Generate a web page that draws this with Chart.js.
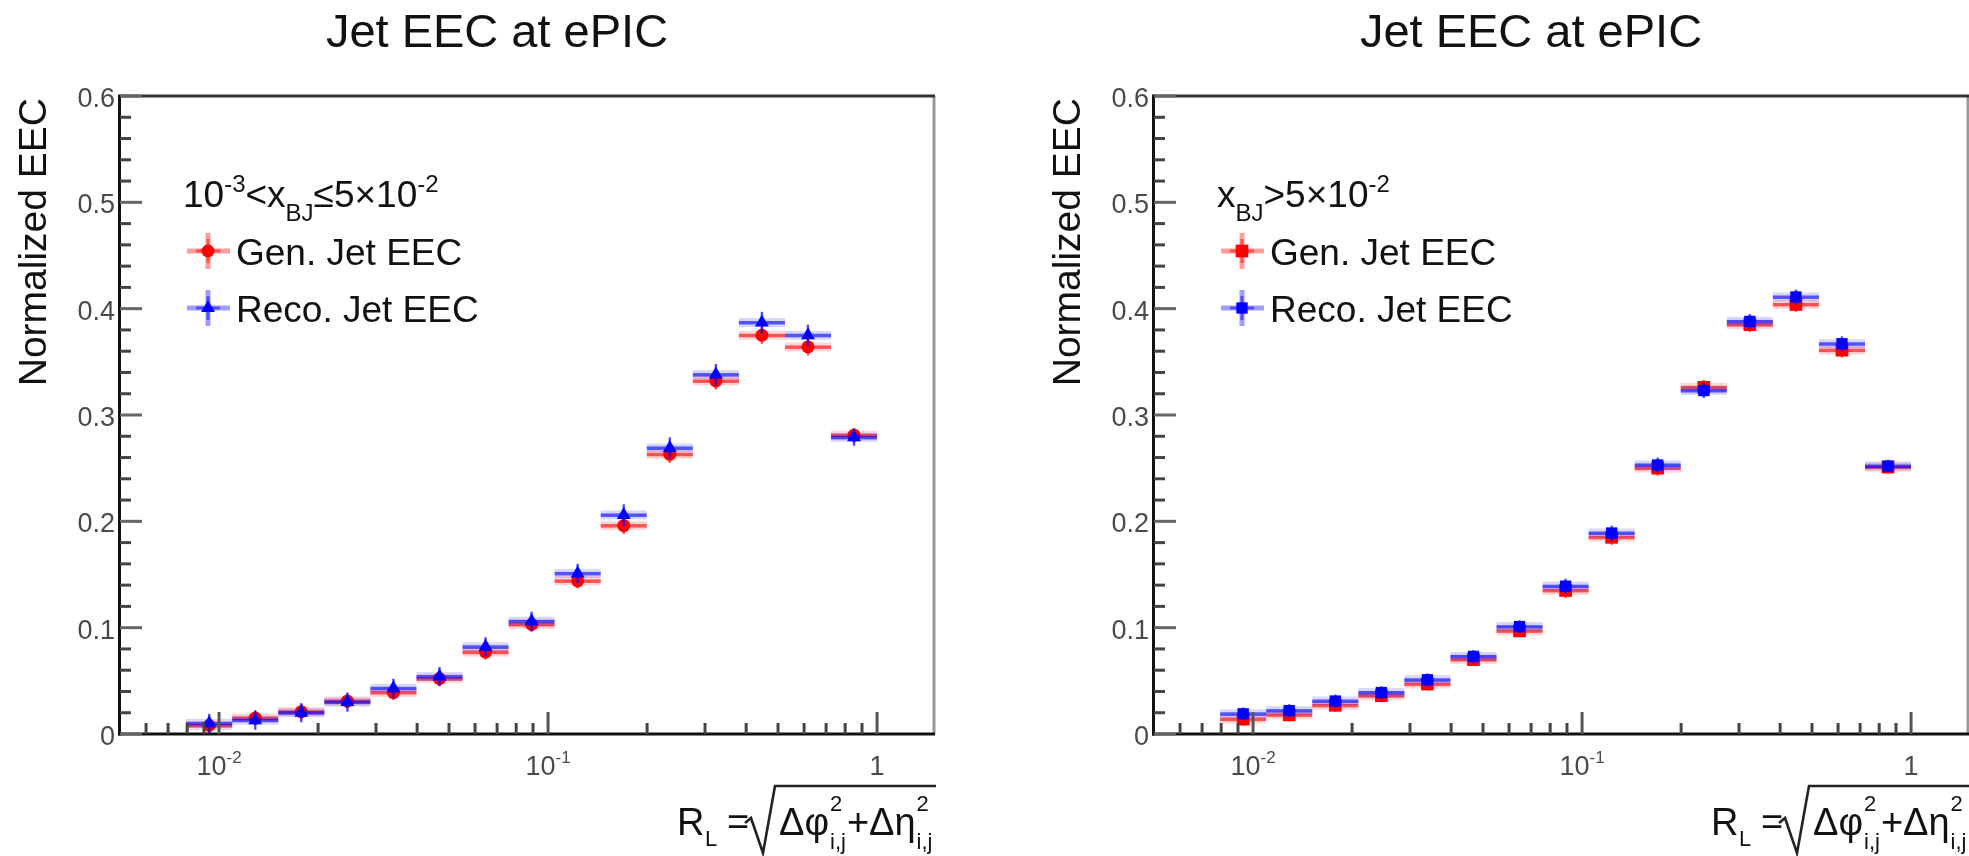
<!DOCTYPE html>
<html><head><meta charset="utf-8">
<script src="https://cdn.jsdelivr.net/npm/chart.js@4.4.1/dist/chart.umd.min.js"></script>
<style>
html,body{margin:0;padding:0;background:#fff;overflow:hidden;width:1969px;height:856px;}
.pad{position:absolute;top:0;width:1034px;height:856px;}
canvas{display:block;}
</style></head><body>
<div class="pad" style="left:0px"><canvas id="c1" width="1034" height="856"></canvas></div>
<div class="pad" style="left:1034px"><canvas id="c2" width="1034" height="856"></canvas></div>
<script>
// ---- data ----
const binEdges   = [0.007943,0.010965,0.015136,0.020893,0.028840,0.039811,0.054954,0.075858,0.104713,0.144544,0.199526,0.275423,0.380189,0.524807,0.724436,1.0];
const binCenters = [0.009333,0.012882,0.017783,0.024547,0.033884,0.046774,0.064565,0.089125,0.123027,0.169824,0.234423,0.323594,0.446684,0.616595,0.851138];

const genLow     = [0.008,0.015,0.021,0.031,0.039,0.052,0.077,0.103,0.144,0.196,0.263,0.332,0.375,0.364,0.281];
const recoLow    = [0.010,0.013,0.020,0.030,0.043,0.054,0.082,0.106,0.151,0.206,0.269,0.338,0.387,0.375,0.279];
const genLowErr  = [0.007,0.007,0.007,0.007,0.007,0.007,0.007,0.007,0.007,0.008,0.008,0.008,0.008,0.008,0.007];
const recoLowErr = [0.009,0.009,0.009,0.009,0.009,0.009,0.009,0.009,0.009,0.010,0.010,0.010,0.010,0.010,0.008];

const genHigh     = [0.014,0.018,0.027,0.036,0.047,0.070,0.097,0.135,0.185,0.250,0.326,0.385,0.404,0.361,0.251];
const recoHigh    = [0.019,0.022,0.031,0.039,0.051,0.073,0.101,0.139,0.189,0.253,0.323,0.388,0.411,0.367,0.252];
const genHighErr  = [0.006,0.006,0.006,0.006,0.006,0.006,0.006,0.007,0.007,0.007,0.007,0.007,0.007,0.007,0.006];
const recoHighErr = [0.006,0.006,0.006,0.006,0.006,0.006,0.006,0.007,0.007,0.007,0.007,0.007,0.007,0.007,0.006];

const yTicks      = [0,0.1,0.2,0.3,0.4,0.5,0.6];
const yTickLabels = ['0','0.1','0.2','0.3','0.4','0.5','0.6'];
const yMinorTicks = [0.02,0.04,0.06,0.08,0.12,0.14,0.16,0.18,0.22,0.24,0.26,0.28,0.32,0.34,0.36,0.38,0.42,0.44,0.46,0.48,0.52,0.54,0.56,0.58];
const xMajorTicks = [0.01,0.1,1];
const xMajorLabels = [['10','-2'],['10','-1'],['1','']];
const xMinorTicks = [0.006,0.007,0.008,0.009,0.02,0.03,0.04,0.05,0.06,0.07,0.08,0.09,0.2,0.3,0.4,0.5,0.6,0.7,0.8,0.9];

const titleText = 'Jet EEC at ePIC';
const yTitle = 'Normalized EEC';
const genName = 'Gen. Jet EEC';
const recoName = 'Reco. Jet EEC';
const headerLow  = [['10',''],['-3','sup'],['<x',''],['BJ','sub'],['\u22645\u00d710',''],['-2','sup']];
const headerHigh = [['x',''],['BJ','sub'],['>5\u00d710',''],['-2','sup']];

// ---- drawing helpers ----
const FF = '"Liberation Sans", Arial, Helvetica, sans-serif';
function setF(ctx, px){ ctx.font = px + 'px ' + FF; }

function drawParts(ctx, x, y, parts, main, small, supOff, subOff){
  let cx = x;
  for (const [t, k] of parts){
    if (k === 'sup'){ setF(ctx, small); ctx.fillText(t, cx, y - supOff); cx += ctx.measureText(t).width; }
    else if (k === 'sub'){ setF(ctx, small); ctx.fillText(t, cx, y + subOff); cx += ctx.measureText(t).width; }
    else { setF(ctx, main); ctx.fillText(t, cx, y); cx += ctx.measureText(t).width; }
  }
  return cx;
}

function drawMarker(ctx, style, x, y, r, color){
  ctx.fillStyle = color;
  ctx.beginPath();
  if (style === 'circle'){ ctx.arc(x, y, r, 0, Math.PI*2); }
  else if (style === 'triangle'){
    ctx.moveTo(x, y - r); ctx.lineTo(x + r*0.866, y + r*0.5); ctx.lineTo(x - r*0.866, y + r*0.5); ctx.closePath();
  } else { const s = r*Math.SQRT1_2; ctx.rect(x - s, y - s, 2*s, 2*s); }
  ctx.fill();
}

function rootPlugin(cfg){
  return {
    id: 'rootStyle',
    beforeDatasetDraw(chart, args){
      const ctx = chart.ctx, xs = chart.scales.x, ys = chart.scales.y, a = chart.chartArea;
      const ds = chart.data.datasets[args.index];
      ctx.save();
      ctx.beginPath(); ctx.rect(a.left, a.top, a.right - a.left, a.bottom - a.top); ctx.clip();
      for (const p of ds.data){
        const x1 = xs.getPixelForValue(p.lo), x2 = xs.getPixelForValue(p.hi);
        const px = xs.getPixelForValue(p.x), py = ys.getPixelForValue(p.y);
        ctx.fillStyle = 'rgba(' + ds.band + ',0.16)';
        ctx.fillRect(x1, py - 4.5, x2 - x1, 9);
        ctx.fillStyle = 'rgba(' + ds.band + ',0.62)';
        ctx.fillRect(x1, py - 1.5, x2 - x1, 3.5);
        const yt = ys.getPixelForValue(p.y + p.e), yb = ys.getPixelForValue(p.y - p.e);
        ctx.fillStyle = 'rgba(' + ds.band + ',0.7)';
        ctx.fillRect(px - 1.2, yt, 2.4, yb - yt);
      }
      ctx.restore();
    },
    afterDraw(chart){
      const ctx = chart.ctx, xs = chart.scales.x, ys = chart.scales.y, a = chart.chartArea;
      ctx.save();
      ctx.textBaseline = 'alphabetic';
      // frame
      ctx.lineCap = 'butt';
      ctx.lineWidth = 3;
      ctx.strokeStyle = '#999'; ctx.beginPath(); ctx.moveTo(a.right - 1, a.top); ctx.lineTo(a.right - 1, a.bottom); ctx.stroke();
      ctx.strokeStyle = '#333'; ctx.beginPath(); ctx.moveTo(a.left, a.top); ctx.lineTo(a.right, a.top); ctx.stroke();
      ctx.strokeStyle = '#111';
      ctx.beginPath(); ctx.moveTo(a.left - 0.5, a.top - 1.5); ctx.lineTo(a.left - 0.5, a.bottom + 1.5); ctx.stroke();
      ctx.beginPath(); ctx.moveTo(a.left - 2, a.bottom); ctx.lineTo(a.right, a.bottom); ctx.stroke();
      // y ticks
      ctx.lineWidth = 3;
      ctx.strokeStyle = '#444';
      for (const v of yMinorTicks){ const y = ys.getPixelForValue(v); ctx.beginPath(); ctx.moveTo(a.left, y); ctx.lineTo(a.left + 11, y); ctx.stroke(); }
      ctx.strokeStyle = '#666';
      for (const v of yTicks){ const y = ys.getPixelForValue(v); ctx.beginPath(); ctx.moveTo(a.left, y); ctx.lineTo(a.left + 22, y); ctx.stroke(); }
      // y tick labels
      ctx.fillStyle = '#4a4a4a'; setF(ctx, 27); ctx.textAlign = 'right';
      yTicks.forEach((v, i) => { const y = ys.getPixelForValue(v); ctx.fillText(yTickLabels[i], a.left - 5, y + 11); });
      // x ticks
      ctx.strokeStyle = '#444';
      for (const v of xMinorTicks){ const x = xs.getPixelForValue(v); ctx.beginPath(); ctx.moveTo(x, a.bottom); ctx.lineTo(x, a.bottom - 11); ctx.stroke(); }
      ctx.strokeStyle = '#555';
      for (const v of xMajorTicks){ const x = xs.getPixelForValue(v); ctx.beginPath(); ctx.moveTo(x, a.bottom); ctx.lineTo(x, a.bottom - 22); ctx.stroke(); }
      // x tick labels
      ctx.textAlign = 'left'; ctx.fillStyle = '#4a4a4a';
      xMajorTicks.forEach((v, i) => {
        const [b, s] = xMajorLabels[i];
        setF(ctx, 27); const wb = ctx.measureText(b).width;
        setF(ctx, 17); const ws = s ? ctx.measureText(s).width : 0;
        const x0 = xs.getPixelForValue(v) - (wb + ws)/2;
        setF(ctx, 27); ctx.fillText(b, x0, 775);
        if (s){ setF(ctx, 17); ctx.fillText(s, x0 + wb, 763); }
      });
      // title
      ctx.fillStyle = '#111'; setF(ctx, 47); ctx.textAlign = 'center';
      ctx.fillText(titleText, 497, 47);
      // y title
      ctx.save(); ctx.translate(46, 98); ctx.rotate(-Math.PI/2);
      setF(ctx, 39); ctx.textAlign = 'right'; ctx.fillText(yTitle, 0, 0);
      ctx.restore();
      // x title: R_L = sqrt(dphi^2_ij + deta^2_ij)
      ctx.textAlign = 'left'; ctx.fillStyle = '#111';
      setF(ctx, 38); ctx.fillText('R', 677, 835);
      setF(ctx, 22); ctx.fillText('L', 705, 846);
      setF(ctx, 38); ctx.fillText('=', 727, 835);
      ctx.strokeStyle = '#222'; ctx.lineWidth = 2.6; ctx.lineJoin = 'miter';
      ctx.beginPath(); ctx.moveTo(745, 823); ctx.lineTo(751, 818); ctx.lineTo(763, 853); ctx.lineTo(775, 786); ctx.lineTo(936, 786); ctx.stroke();
      let cx = 779;
      setF(ctx, 38); ctx.fillText('\u0394\u03c6', cx, 835); cx += ctx.measureText('\u0394\u03c6').width + 1;
      setF(ctx, 22); ctx.fillText('2', cx, 811); ctx.fillText('i,j', cx, 849);
      cx += Math.max(ctx.measureText('2').width, ctx.measureText('i,j').width) + 1;
      setF(ctx, 38); ctx.fillText('+\u0394\u03b7', cx, 835); cx += ctx.measureText('+\u0394\u03b7').width + 1;
      setF(ctx, 22); ctx.fillText('2', cx, 811); ctx.fillText('i,j', cx, 849);
      // legend header
      ctx.fillStyle = '#111';
      drawParts(ctx, 183, 207, cfg.header, 37, 24, 15, 14);
      // legend entries
      const entries = [
        {name: genName, y: 251, base: 265, band: '255,0,0', col: '#ff0000', style: cfg.genStyle, r: cfg.genR},
        {name: recoName, y: 308, base: 322, band: '0,0,255', col: '#0000ff', style: cfg.recoStyle, r: cfg.recoR}
      ];
      for (const e of entries){
        const mx = 208;
        ctx.fillStyle = 'rgba(' + e.band + ',0.38)';
        ctx.fillRect(mx - 21, e.y - 2.5, 43, 5);
        ctx.fillRect(mx - 2.5, e.y - 18, 5, 36);
        ctx.fillStyle = 'rgba(' + e.band + ',0.5)';
        ctx.fillRect(mx - 12, e.y - 1.5, 24, 3);
        ctx.fillRect(mx - 1.5, e.y - 12, 3, 24);
        drawMarker(ctx, e.style, mx, e.y, e.r, e.col);
        ctx.fillStyle = '#111'; setF(ctx, 37); ctx.textAlign = 'left';
        ctx.fillText(e.name, 236, e.base);
      }
      ctx.restore();
    }
  };
}

function makeChart(id, cfg){
  const mk = (vals, errs) => binCenters.map((x, i) => ({x: x, y: vals[i], lo: binEdges[i], hi: binEdges[i+1], e: errs[i]}));
  return new Chart(document.getElementById(id), {
    type: 'scatter',
    data: {datasets: [
      {label: genName, data: mk(cfg.gen, cfg.genErr), order: 2, band: '255,0,0',
       pointStyle: cfg.genStyle, pointRadius: cfg.genR, backgroundColor: '#ff0000', borderColor: '#ff0000', borderWidth: 0, showLine: false},
      {label: recoName, data: mk(cfg.reco, cfg.recoErr), order: 1, band: '0,0,255',
       pointStyle: cfg.recoStyle, pointRadius: cfg.recoR, backgroundColor: '#0000ff', borderColor: '#0000ff', borderWidth: 0, showLine: false}
    ]},
    options: {
      responsive: false, animation: false, events: [], devicePixelRatio: 1,
      layout: {padding: {left: 120, top: 96, right: 99, bottom: 122}},
      scales: {
        x: {type: 'logarithmic', min: 0.005, max: 1.5, display: false},
        y: {type: 'linear', min: 0, max: 0.6, display: false}
      },
      plugins: {legend: {display: false}, tooltip: {enabled: false}, title: {display: false}}
    },
    plugins: [rootPlugin(cfg)]
  });
}

makeChart('c1', {gen: genLow, reco: recoLow, genErr: genLowErr, recoErr: recoLowErr,
  genStyle: 'circle', genR: 6.5, recoStyle: 'triangle', recoR: 8, header: headerLow});
makeChart('c2', {gen: genHigh, reco: recoHigh, genErr: genHighErr, recoErr: recoHighErr,
  genStyle: 'rect', genR: 9, recoStyle: 'rect', recoR: 8, header: headerHigh});
</script>
</body></html>
